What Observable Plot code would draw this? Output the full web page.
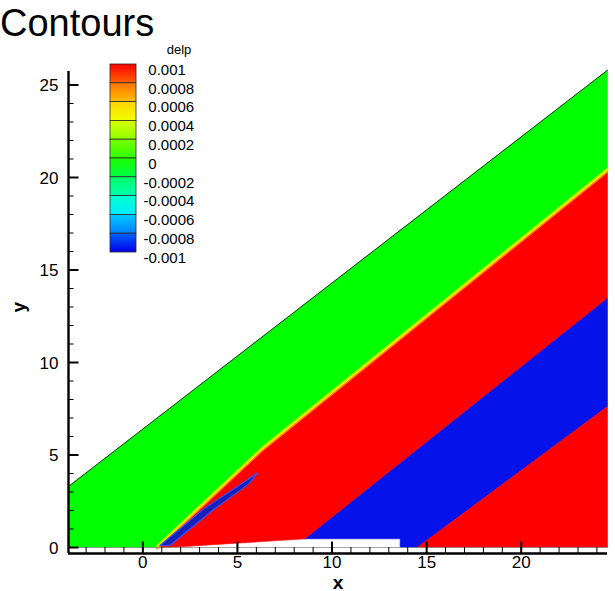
<!DOCTYPE html>
<html>
<head>
<meta charset="utf-8">
<script src="https://cdn.jsdelivr.net/npm/d3@7"></script>
<script src="https://cdn.jsdelivr.net/npm/@observablehq/plot@0.6"></script>
<style>
  html, body { margin: 0; padding: 0; background: #fff; }
  #wrap { position: relative; width: 615px; height: 591px; overflow: hidden; font-family: "Liberation Sans", Arial, Helvetica, sans-serif; }
  #chart, #legend { position: absolute; left: 0; top: 0; }
  #title { position: absolute; left: 0px; top: 4px; font-size: 38px; line-height: 39px; color: #000; white-space: nowrap; }
  #legendTitle { position: absolute; left: 154px; width: 50px; top: 43px; font-size: 13px; line-height: 13px; text-align: center; color: #000; }
</style>
</head>
<body>
<div id="wrap">
  <div id="chart"></div>
  <div id="legend"></div>
  <div id="title">Contours</div>
  <div id="legendTitle">delp</div>
</div>
<script>
// ---------- data ----------
const xDomain = [-3.93, 24.56];
const yDomain = [-0.324, 25.73];

const xMajorTicks = [0, 5, 10, 15, 20];
const xMinorTicks = [-3, -2, -1, 0, 1, 2, 3, 4, 5, 6, 7, 8, 9, 10, 11, 12, 13, 14, 15, 16, 17, 18, 19, 20, 21, 22, 23, 24];
const yMajorTicks = [0, 5, 10, 15, 20, 25];
const yMinorTicks = [1, 2, 3, 4, 5, 6, 7, 8, 9, 10, 11, 12, 13, 14, 15, 16, 17, 18, 19, 20, 21, 22, 23, 24, 25];

// contour boundaries, [x, y] in data units
const domainTop = [[-3.93, 3.3], [24.56, 25.8]];            // upper edge of the computed domain
const greenRedEdge = [[0.75, 0], [6.3, 5.3], [24.56, 20.38]]; // delp ~ 0 / +0.001 front
const redBlueEdge = [[8.6, 0.47], [24.56, 13.46]];           // +0.001 / -0.001 front
const blueRedEdge = [[14.5, 0], [24.56, 7.62]];              // -0.001 / +0.001 front
const wallEdge = [[1.35, 0], [8.6, 0.47], [13.6, 0.47], [13.6, 0]]; // solid body (white)
const sliver = [[0.9, 0.11], [3.22, 2.09], [5.34, 3.53], [6.08, 4.04], [5.6, 3.44], [3.67, 2.0], [1.43, 0.11], [0.9, 0.11]];

// legend
const levels = [0.001, 0.0008, 0.0006, 0.0004, 0.0002, 0, -0.0002, -0.0004, -0.0006, -0.0008, -0.001];
const levelLabels = ["0.001", "0.0008", "0.0006", "0.0004", "0.0002", "0", "-0.0002", "-0.0004", "-0.0006", "-0.0008", "-0.001"];
const bandColors = [
  ["#ff0000", "#ff6200"],
  ["#ff7400", "#ffbe00"],
  ["#ffd200", "#f2ff00"],
  ["#d8ff00", "#90ff00"],
  ["#78ff00", "#30ff00"],
  ["#1cff00", "#00ff44"],
  ["#00ff64", "#00ffb0"],
  ["#00ffcc", "#00eeff"],
  ["#00ccff", "#0080ff"],
  ["#0064ff", "#0000e6"]
];

const GREEN = "#00ff00", RED = "#ff0000", BLUE = "#0612ea";

// ---------- regions built from the boundaries ----------
const xMin = xDomain[0], xMax = xDomain[1];
const rev = a => a.slice().reverse();
const regions = [
  {fill: GREEN, pts: [[xMin, 0], ...domainTop, ...rev(greenRedEdge)]},
  {fill: RED,   pts: [...greenRedEdge, ...rev(redBlueEdge), wallEdge[0]]},
  {fill: BLUE,  pts: [...redBlueEdge, ...rev(blueRedEdge), wallEdge[3], wallEdge[2]]},
  {fill: RED,   pts: [...blueRedEdge, [xMax, 0]]}
];

const W = 615, H = 591;
const mL = 68, mR = 8, mT = 71, mB = 38;
const plotW = W - mL - mR, plotH = H - mT - mB;
const px = d => d[0], py = d => d[1];
const font = "Liberation Sans, Arial, Helvetica, sans-serif";

const chart = Plot.plot({
  width: W, height: H,
  marginLeft: mL, marginRight: mR, marginTop: mT, marginBottom: mB,
  style: {fontFamily: font, background: "white", color: "black", overflow: "visible"},
  x: {domain: xDomain, axis: null},
  y: {domain: yDomain, axis: null},
  marks: [
    ...regions.map(r => Plot.line(r.pts.concat([r.pts[0]]), {x: px, y: py, fill: r.fill, stroke: r.fill, strokeWidth: 0.6})),
    // smeared front between green and red
    Plot.line(greenRedEdge, {x: px, y: py, stroke: "#b4ff00", strokeWidth: 2, dy: -1.6}),
    Plot.line(greenRedEdge, {x: px, y: py, stroke: "#ffe600", strokeWidth: 1.6}),
    Plot.line(greenRedEdge, {x: px, y: py, stroke: "#ff8c00", strokeWidth: 1.4, dy: 1.5}),
    // thin vortex sliver
    Plot.line(sliver, {x: px, y: py, fill: "#1520b8", stroke: "#2f55ff", strokeWidth: 1.1}),
    // domain outline on top
    Plot.line(domainTop, {x: px, y: py, stroke: "#2a2a2a", strokeWidth: 1}),
    Plot.ruleY([0], {stroke: "#8a8a8a", strokeWidth: 0.8}),
    // ticks (inward)
    Plot.tickX(xMinorTicks, {x: d => d, insetTop: plotH - 6, stroke: "black", strokeWidth: 1}),
    Plot.tickX(xMajorTicks, {x: d => d, insetTop: plotH - 11.5, stroke: "black", strokeWidth: 2}),
    Plot.tickY(yMinorTicks, {y: d => d, insetRight: plotW - 5.5, stroke: "black", strokeWidth: 1}),
    Plot.tickY(yMajorTicks, {y: d => d, insetRight: plotW - 10.5, stroke: "black", strokeWidth: 2}),
    // axis lines
    Plot.ruleX([xDomain[0]], {stroke: "black", strokeWidth: 2.4}),
    Plot.ruleY([yDomain[0]], {stroke: "black", strokeWidth: 2.4}),
    // tick labels
    Plot.text(xMajorTicks, {x: d => d, frameAnchor: "bottom", dy: 14.5, text: d => String(d), fontSize: 17, fill: "black"}),
    Plot.text(yMajorTicks, {y: d => d, frameAnchor: "left", dx: -10, dy: 0.6, textAnchor: "end", text: d => String(d), fontSize: 17, fill: "black"}),
    // axis titles
    Plot.text(["x"], {frameAnchor: "bottom", dy: 35, text: d => d, fontSize: 19, fontWeight: "bold", fill: "black"}),
    Plot.text(["y"], {frameAnchor: "left", dx: -50, rotate: -90, text: d => d, fontSize: 19, fontWeight: "bold", fill: "black"})
  ]
});
document.getElementById("chart").appendChild(chart);

// ---------- legend ----------
const bands = bandColors.map((c, i) => ({top: levels[i], bottom: levels[i + 1], i}));
const legend = Plot.plot({
  width: 240, height: 280, margin: 0,
  style: {fontFamily: font, background: "transparent", color: "black", overflow: "visible"},
  x: {domain: [0, 240], range: [0, 240], axis: null},
  y: {domain: [levels[0], levels[levels.length - 1]], range: [64, 252], axis: null},
  marks: [
    ...bands.map(b => Plot.rect([b], {x1: () => 110, x2: () => 136, y1: "top", y2: "bottom", fill: `url(#lg${b.i})`, stroke: "#2a2a2a", strokeWidth: 0.8})),
    Plot.text(levelLabels, {x: d => d.startsWith("-") ? 143 : 147.8, y: (d, i) => levels[i], dy: 5.5, textAnchor: "start", text: d => d, fontSize: 15, fill: "black"})
  ]
});
const ns = "http://www.w3.org/2000/svg";
const defs = document.createElementNS(ns, "defs");
bandColors.forEach(([a, b], i) => {
  const g = document.createElementNS(ns, "linearGradient");
  g.setAttribute("id", "lg" + i);
  g.setAttribute("x1", "0"); g.setAttribute("y1", "0"); g.setAttribute("x2", "0"); g.setAttribute("y2", "1");
  [[0, a], [1, b]].forEach(([o, c]) => {
    const s = document.createElementNS(ns, "stop");
    s.setAttribute("offset", o);
    s.setAttribute("stop-color", c);
    g.appendChild(s);
  });
  defs.appendChild(g);
});
legend.insertBefore(defs, legend.firstChild);
document.getElementById("legend").appendChild(legend);
</script>
</body>
</html>
